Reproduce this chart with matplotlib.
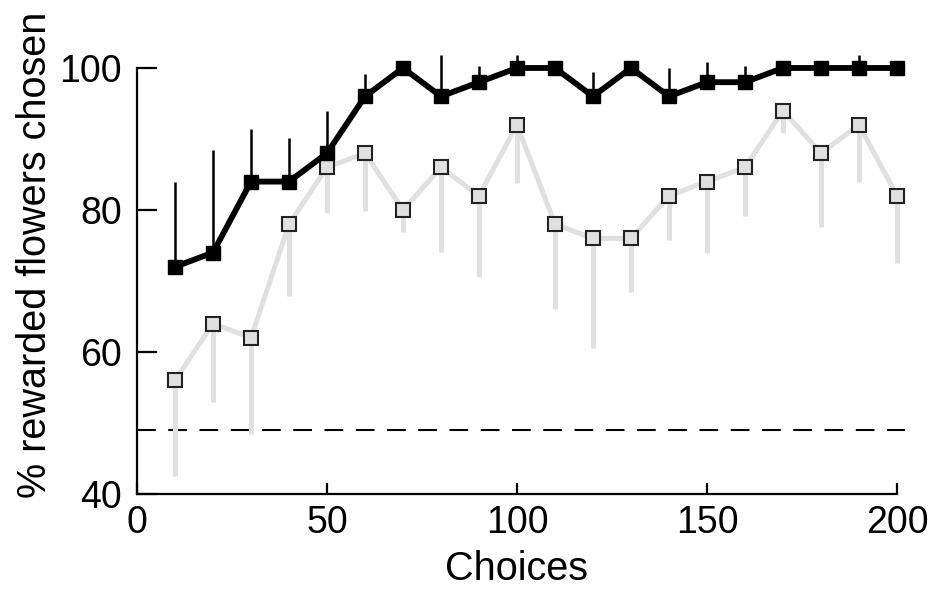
import matplotlib
matplotlib.use('Agg')
import matplotlib.pyplot as plt

# choice bins
choices = [10, 20, 30, 40, 50, 60, 70, 80, 90, 100,
           110, 120, 130, 140, 150, 160, 170, 180, 190, 200]

# group shown in black (filled squares), error bars drawn upward
black_pct = [72, 74, 84, 84, 88, 96, 100, 96, 98, 100,
             100, 96, 100, 96, 98, 98, 100, 100, 100, 100]
black_err = [12, 14.5, 7.4, 6.2, 5.9, 3.1, 0, 5.8, 2.3, 1.8,
             0, 3.5, 0, 4, 2.9, 2.3, 0, 0, 1.8, 0]

# group shown in grey (open squares), error bars drawn downward
grey_pct = [56, 64, 62, 78, 86, 88, 80, 86, 82, 92,
            78, 76, 76, 82, 84, 86, 94, 88, 92, 82]
grey_err = [13.5, 11.1, 13.5, 10.1, 6.4, 8.1, 3.1, 11.9, 11.4, 8.2,
            12, 15.5, 7.6, 6.2, 10, 6.9, 3.2, 10.4, 8, 9.5]

chance_level = 49

plt.rcParams['font.family'] = ['Liberation Sans', 'DejaVu Sans']

fig = plt.figure(figsize=(9.36, 5.99), dpi=100)
ax = fig.add_axes([0.1464, 0.1753, 0.8119, 0.7112])

zeros = [0] * len(choices)

# grey series
ax.errorbar(choices, grey_pct, yerr=[grey_err, zeros], fmt='none',
            ecolor='#e0e0e0', elinewidth=3.6, capsize=0, zorder=1,
            clip_on=False)
ax.plot(choices, grey_pct, color='#e0e0e0', lw=3.6, zorder=2,
        marker='s', markersize=9.5, markerfacecolor='#e0e0e0',
        markeredgecolor='#222222', markeredgewidth=1.5, clip_on=False)

# black series
ax.errorbar(choices, black_pct, yerr=[zeros, black_err], fmt='none',
            ecolor='black', elinewidth=1.8, capsize=0, zorder=3,
            clip_on=False)
ax.plot(choices, black_pct, color='black', lw=4.2, zorder=4,
        marker='s', markersize=10, markerfacecolor='black',
        markeredgecolor='black', clip_on=False)

# chance level
ax.plot([0, 202], [chance_level, chance_level], color='black', lw=1.5,
        dashes=(9, 6), zorder=0, clip_on=False)

ax.set_xlim(0, 200)
ax.set_ylim(40, 100)
ax.set_xticks([0, 50, 100, 150, 200])
ax.set_yticks([40, 60, 80, 100])

for side in ['top', 'right']:
    ax.spines[side].set_visible(False)
for side in ['left', 'bottom']:
    ax.spines[side].set_linewidth(1.6)

ax.tick_params(axis='y', direction='in', length=14.5, width=1.6,
               labelsize=27, pad=11)
ax.tick_params(axis='x', direction='in', length=8, width=1.6,
               labelsize=27, pad=8)

ax.set_xlabel('Choices', fontsize=28.5, va='baseline')
ax.xaxis.set_label_coords(0.5, -0.202)
ax.set_ylabel('% rewarded flowers chosen', fontsize=28.5, va='center')
ax.yaxis.set_label_coords(-0.134, 0.561)

fig.savefig('out.png', dpi=100)
